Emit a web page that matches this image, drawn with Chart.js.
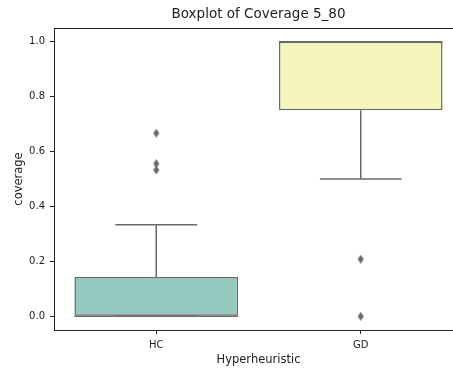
<!DOCTYPE html>
<html>
<head>
<meta charset="utf-8">
<script src="https://cdn.jsdelivr.net/npm/chart.js@4"></script>
<style>
  html, body { margin: 0; padding: 0; background: #fff; overflow: hidden; width: 453px; height: 369px; }
  #wrap { width: 453px; height: 369px; overflow: hidden; position: relative; }
  #box-chart { position: absolute; left: 0; top: 0; }
</style>
</head>
<body>
<div id="wrap"><canvas id="box-chart" width="470" height="369"></canvas></div>
<script>
  const categories = ['HC', 'GD'];
  const q1 = [0, 0.75];
  const median = [0, 1.0];
  const q3 = [0.143, 1.0];
  const whiskerLow = [0, 0.5];
  const whiskerHigh = [0.333, 1.0];
  const outliersHC = [0.667, 0.556, 0.533];
  const outliersGD = [0.208, 0];
  const yTicks = [0, 0.2, 0.4, 0.6, 0.8, 1.0];
  const chartTitle = 'Boxplot of Coverage 5_80';
  const boxColors = ['#96cac1', '#f4f5bb'];
  const lineGray = '#6a6a6a';

  // thin diamond marker like matplotlib 'd'
  const marker = document.createElement('canvas');
  marker.width = 7; marker.height = 9;
  const m = marker.getContext('2d');
  m.fillStyle = lineGray;
  m.beginPath();
  m.moveTo(3.5, 0); m.lineTo(6.5, 4.5); m.lineTo(3.5, 9); m.lineTo(0.5, 4.5);
  m.closePath(); m.fill();

  const fliers = [];
  outliersHC.forEach(v => fliers.push({ x: 'HC', y: v }));
  outliersGD.forEach(v => fliers.push({ x: 'GD', y: v }));

  const whiskers = {
    id: 'whiskers',
    beforeDatasetsDraw(chart) {
      const ctx = chart.ctx;
      const ys = chart.scales.y;
      const bars = chart.getDatasetMeta(0).data;
      ctx.save();
      ctx.strokeStyle = lineGray;
      ctx.lineWidth = 1.5;
      bars.forEach((bar, i) => {
        const x = bar.x;
        const cap = bar.width / 4;
        ctx.beginPath();
        ctx.moveTo(x, ys.getPixelForValue(q3[i]));
        ctx.lineTo(x, ys.getPixelForValue(whiskerHigh[i]));
        ctx.moveTo(x - cap, ys.getPixelForValue(whiskerHigh[i]));
        ctx.lineTo(x + cap, ys.getPixelForValue(whiskerHigh[i]));
        ctx.moveTo(x, ys.getPixelForValue(q1[i]));
        ctx.lineTo(x, ys.getPixelForValue(whiskerLow[i]));
        ctx.moveTo(x - cap, ys.getPixelForValue(whiskerLow[i]));
        ctx.lineTo(x + cap, ys.getPixelForValue(whiskerLow[i]));
        ctx.stroke();
      });
      ctx.restore();
    },
    afterDatasetsDraw(chart) {
      const ctx = chart.ctx;
      const ys = chart.scales.y;
      const bars = chart.getDatasetMeta(0).data;
      ctx.save();
      ctx.strokeStyle = lineGray;
      ctx.lineWidth = 1.5;
      bars.forEach((bar, i) => {
        const y = ys.getPixelForValue(median[i]);
        ctx.beginPath();
        ctx.moveTo(bar.x - bar.width / 2, y);
        ctx.lineTo(bar.x + bar.width / 2, y);
        ctx.stroke();
      });
      ctx.restore();
    },
    afterDraw(chart) {
      const ctx = chart.ctx;
      const a = chart.chartArea;
      ctx.save();
      // keep the right side of the frame open, as in the picture
      ctx.fillStyle = '#fff';
      ctx.fillRect(a.right - 18, a.top + 1, 40, a.bottom - a.top - 2);
      // top spine
      ctx.strokeStyle = '#222';
      ctx.lineWidth = 1;
      ctx.beginPath();
      ctx.moveTo(a.left, a.top + 0.5);
      ctx.lineTo(a.right, a.top + 0.5);
      ctx.stroke();
      // title centred over the axes
      ctx.fillStyle = '#222';
      ctx.font = '13.5px "DejaVu Sans"';
      ctx.textAlign = 'center';
      ctx.textBaseline = 'middle';
      ctx.fillText(chartTitle, (a.left + a.right) / 2, 14);
      ctx.restore();
    }
  };

  const ctx = document.getElementById('box-chart');

  new Chart(ctx, {
    type: 'bar',
    data: {
      labels: categories,
      datasets: [{
        type: 'bar',
        data: q1.map((v, i) => [v, q3[i]]),
        backgroundColor: boxColors,
        borderColor: lineGray,
        borderWidth: 1.5,
        borderSkipped: false,
        barPercentage: 0.8,
        categoryPercentage: 1.0,
        order: 2
      }, {
        type: 'scatter',
        data: fliers,
        pointStyle: marker,
        pointRadius: 4,
        order: 1
      }]
    },
    plugins: [whiskers],
    options: {
      responsive: false,
      animation: false,
      layout: { padding: { left: 0, right: 7, top: 28, bottom: 0 } },
      plugins: {
        legend: { display: false },
        tooltip: { enabled: false },
        title: { display: false }
      },
      scales: {
        x: {
          type: 'category',
          offset: true,
          grid: { display: true, drawOnChartArea: false, drawTicks: true, tickLength: 4, color: '#222', offset: false },
          border: { display: true, color: '#222', width: 1 },
          ticks: { color: '#222', font: { family: 'DejaVu Sans', size: 10 }, padding: 5 },
          title: { display: true, text: 'Hyperheuristic', color: '#222', font: { family: 'DejaVu Sans', size: 11.5 }, padding: { top: 0, bottom: 2 } },
          afterFit(scale) { scale.height = 39; }
        },
        y: {
          min: -0.05,
          max: 1.05,
          afterBuildTicks(scale) { scale.ticks = yTicks.map(v => ({ value: v })); },
          grid: { display: true, drawOnChartArea: false, drawTicks: true, tickLength: 4, color: '#222' },
          border: { display: true, color: '#222', width: 1 },
          ticks: {
            color: '#222',
            font: { family: 'DejaVu Sans', size: 10 },
            padding: 5,
            callback: v => Number(v).toFixed(1)
          },
          title: { display: true, text: 'coverage', color: '#222', font: { family: 'DejaVu Sans', size: 11.5 }, padding: { top: 12, bottom: 0 } },
          afterFit(scale) { scale.width = 54; }
        }
      }
    }
  });
</script>
</body>
</html>
